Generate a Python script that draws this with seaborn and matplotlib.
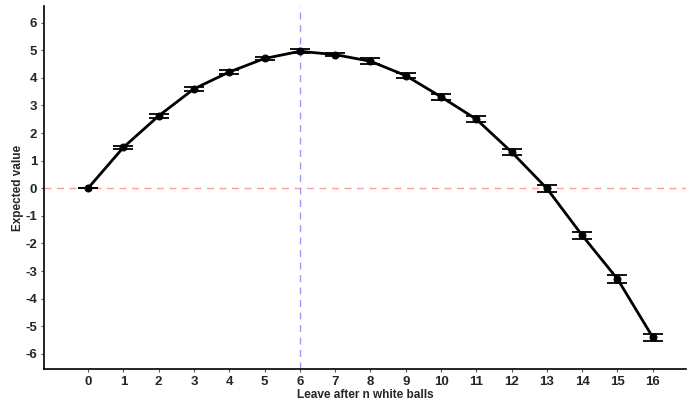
import numpy as np
import pandas as pd
import matplotlib
matplotlib.use("Agg")
import matplotlib.pyplot as plt
import seaborn as sns

# Expected value of stopping after n white balls, with its standard error
n_white = list(range(17))
expected = [0.0, 1.48, 2.62, 3.60, 4.21, 4.70, 4.96, 4.84, 4.60, 4.08,
            3.31, 2.50, 1.31, -0.01, -1.71, -3.29, -5.40]
std_err = [0.0, 0.05, 0.06, 0.06, 0.07, 0.07, 0.07, 0.06, 0.10, 0.10,
           0.10, 0.10, 0.11, 0.12, 0.13, 0.13, 0.13]
y_ticks = list(range(-6, 7))
best_n = 6

df = pd.DataFrame({"n": n_white, "ev": expected, "se": std_err})

sns.set_theme(style="ticks")
plt.rcParams["font.family"] = ["Liberation Sans", "DejaVu Sans"]

fig = plt.figure(figsize=(6.87, 4.03), dpi=100)
ax = fig.add_axes([0.064, 0.0844, 0.935, 0.9006])

ax.axhline(0, color="#ff9d9d", lw=1.0, ls=(0, (5, 4)), zorder=1)
ax.axvline(best_n, color="#9b9bff", lw=1.0, ls=(0, (5, 4)), zorder=1)

ax.errorbar(df["n"], df["ev"], yerr=df["se"], fmt="none", ecolor="black",
            elinewidth=1.2, capsize=7.5, capthick=1.3, zorder=2)
sns.lineplot(data=df, x="n", y="ev", ax=ax, color="black", lw=2.0,
             marker="o", markersize=5, markeredgecolor="black", zorder=3)

ax.set_xlim(-1.25, 16.95)
ax.set_ylim(-6.55, 6.6)
ax.set_xticks(n_white)
ax.set_xticklabels([str(v) for v in n_white], fontsize=9.5, fontweight="bold")
ax.set_yticks(y_ticks)
ax.set_yticklabels([str(v) for v in y_ticks], fontsize=9.5, fontweight="bold")
ax.tick_params(axis="both", length=2.5, width=0.8, color="#555555", pad=2.5)

ax.set_xlabel("Leave after n white balls", fontsize=8.5, fontweight="bold", labelpad=1)
ax.set_ylabel("Expected value", fontsize=8.5, fontweight="bold", labelpad=1)

sns.despine(ax=ax)
for s in ("left", "bottom"):
    ax.spines[s].set_linewidth(1.2)
    ax.spines[s].set_color("black")

fig.savefig("out.png", dpi=100)
